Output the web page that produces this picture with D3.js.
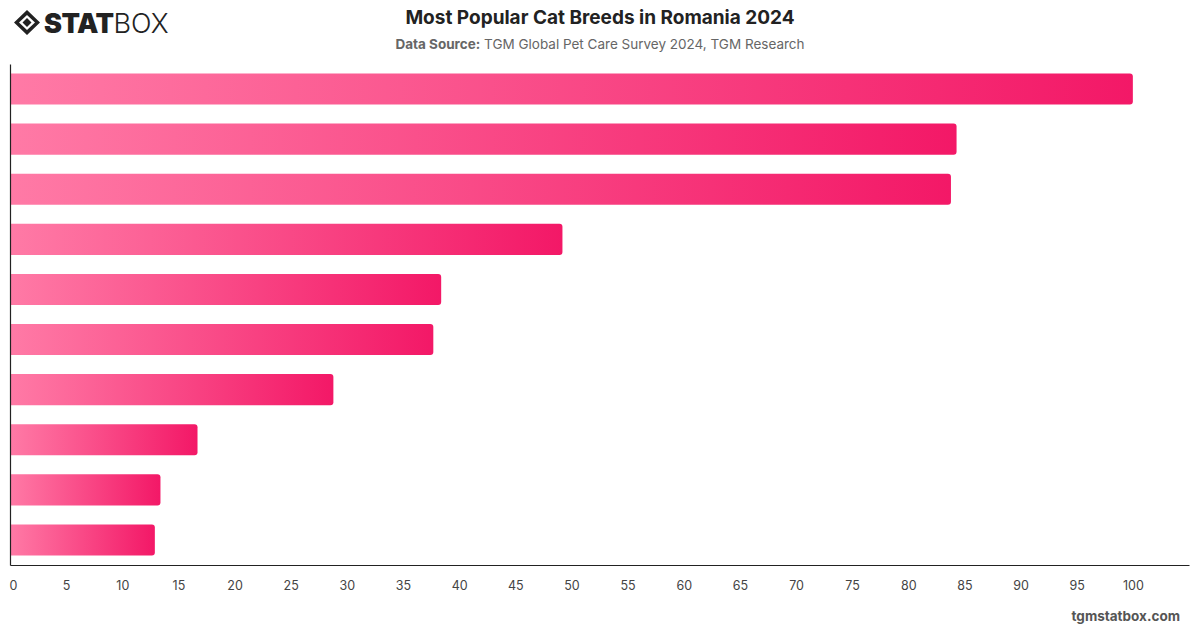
<!DOCTYPE html>
<html><head><meta charset="utf-8">
<script src="https://cdn.jsdelivr.net/npm/d3@7"></script>
<style>body{margin:0;background:#fff;}svg{display:block;font-family:Inter,"Noto Sans",sans-serif;}</style>
</head><body><svg id="c" width="1200" height="628"></svg>
<script>
const categories = ["Breed 1","Breed 2","Breed 3","Breed 4","Breed 5","Breed 6","Breed 7","Breed 8","Breed 9","Breed 10"];
const values = [100, 84.3, 83.8, 49.2, 38.4, 37.7, 28.8, 16.7, 13.4, 12.9];
const tickValues = [0,5,10,15,20,25,30,35,40,45,50,55,60,65,70,75,80,85,90,95,100];
const title = "Most Popular Cat Breeds in Romania 2024";
const sourceLabel = "Data Source:";
const sourceText = " TGM Global Pet Care Survey 2024, TGM Research";

const svg = d3.select("#c");
const defs = svg.append("defs");
const g = defs.append("linearGradient").attr("id","bg").attr("x1","0").attr("x2","1").attr("y1","0").attr("y2","0");
g.append("stop").attr("offset","0").attr("stop-color","#ff7aa6");
g.append("stop").attr("offset","1").attr("stop-color","#f31867");

const x = d3.scaleLinear().domain([0,105]).range([10,1189]);
const y = d3.scaleBand().domain(categories).range([64,565]).paddingInner(0.38).paddingOuter(0.19);

// bars with rounded right end
function barPath(x0,x1,y0,h,r){
  r=Math.min(r,(x1-x0)/2);
  return `M${x0},${y0}H${x1-r}Q${x1},${y0} ${x1},${y0+r}V${y0+h-r}Q${x1},${y0+h} ${x1-r},${y0+h}H${x0}Z`;
}
svg.append("g").selectAll("path").data(values).join("path")
  .attr("d",(d,i)=>barPath(x(0),x(d),y(categories[i]),y.bandwidth(),3))
  .attr("fill","url(#bg)");

// axes
const xa = svg.append("g").attr("transform","translate(0,565)")
  .call(d3.axisBottom(x).tickValues(tickValues).tickSize(0).tickPadding(16));
xa.select(".domain").attr("stroke","#222").attr("stroke-width",1.2);
xa.selectAll("text").attr("font-size",12.5).attr("fill","#444").attr("font-family","Inter,sans-serif");
xa.selectAll(".tick").filter(d=>d===0).select("text").attr("dx",3);

const ya = svg.append("g").attr("transform","translate(10,0)")
  .call(d3.axisLeft(y).tickSize(0).tickFormat(""));
ya.select(".domain").attr("stroke","#222").attr("stroke-width",1.2);

// titles
svg.append("text").attr("x",600).attr("y",24).attr("text-anchor","middle")
  .attr("font-size",19).attr("font-weight",700).attr("fill","#222").text(title);
const st = svg.append("text").attr("x",600).attr("y",49).attr("text-anchor","middle")
  .attr("font-size",13.5).attr("fill","#666");
st.append("tspan").attr("font-weight",700).text(sourceLabel);
st.append("tspan").text(sourceText);

// watermark
svg.append("text").attr("x",1180).attr("y",621).attr("text-anchor","end")
  .attr("font-size",13.5).attr("font-weight",700).attr("fill","#555").text("tgmstatbox.com");

// logo
const lg = svg.append("g").attr("transform","translate(14,10)");
lg.append("path").attr("d","M13,0 L26,12.5 L13,25 L0,12.5 Z M13,5 L5,12.5 L13,20 L21,12.5 Z").attr("fill","#222").attr("fill-rule","evenodd");
lg.append("path").attr("d","M13,8 L17.5,12.5 L13,17 L8.5,12.5 Z").attr("fill","#222");
const lt = svg.append("text").attr("x",44).attr("y",33).attr("font-size",27).attr("fill","#222").attr("font-family","Inter,sans-serif");
lt.append("tspan").attr("font-weight",900).attr("letter-spacing",-0.5).text("STAT");
lt.append("tspan").attr("font-weight",300).text("BOX");
</script></body></html>
